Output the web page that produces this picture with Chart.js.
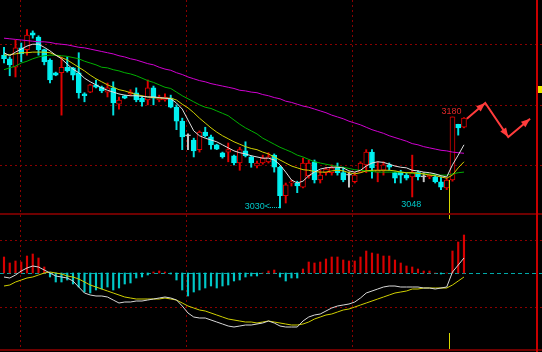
<!DOCTYPE html>
<html>
<head>
<meta charset="utf-8">
<script src="https://cdn.jsdelivr.net/npm/chart.js@4.4.0/dist/chart.umd.min.js"></script>
<style>
html, body { margin: 0; padding: 0; background: #000; }
body { width: 542px; height: 352px; position: relative; overflow: hidden; }
#kline { position: absolute; left: 0; top: 0; }
#macd { position: absolute; left: 0; top: 215px; }
.sep { position: absolute; left: 0; width: 542px; height: 2px; background: #6e0000; }
#edge { position: absolute; left: 536px; top: 0; width: 2px; height: 352px; background: #c80000; }
#tag { position: absolute; left: 538px; top: 86px; width: 4px; height: 7px; background: #e8e800; }
</style>
</head>
<body>
<canvas id="kline" width="542" height="213"></canvas>
<div class="sep" style="top:213px"></div>
<canvas id="macd" width="542" height="135"></canvas>
<div class="sep" style="top:349px"></div>
<div id="edge"></div>
<div id="tag"></div>
<script>
// daily candles, oldest first (index = trading day)
const opens = [3282,3276,3262,3294,3291,3319,3312,3291,3274,3253,
  3253,3262,3261,3253,3218,3221,3233,3229,3221,3228,
  3201,3215,3218,3220,3211,3208,3228,3208,3208,3211,
  3196,3173,3149,3142,3126,3155,3147,3134,3121,3122,
  3116,3104,3124,3114,3099,3104,3106,3117,3097,3050,
  3071,3071,3064,3083,3106,3076,3088,3088,3096,3088,
  3084,3073,3089,3101,3122,3089,3092,3101,3088,3089,
  3084,3081,3089,3081,3081,3081,3073,3063,3076,3168,
  3163];
const closes = [3276,3266,3294,3284,3315,3315,3291,3271,3241,3249,
  3262,3256,3249,3220,3215,3233,3229,3223,3228,3203,
  3208,3211,3221,3208,3205,3228,3211,3213,3213,3196,
  3173,3147,3149,3124,3155,3149,3134,3127,3114,3126,
  3104,3126,3116,3104,3104,3112,3114,3097,3050,3068,
  3073,3066,3104,3104,3076,3084,3094,3096,3088,3076,
  3084,3084,3104,3122,3096,3092,3101,3097,3079,3084,
  3079,3089,3081,3081,3084,3073,3064,3076,3180,3162,
  3178];
const highs = [3295,3279,3307,3302,3324,3322,3314,3292,3276,3254,
  3279,3279,3262,3286,3220,3234,3241,3231,3236,3238,
  3213,3216,3225,3228,3213,3241,3231,3216,3218,3216,
  3200,3178,3152,3145,3157,3163,3150,3135,3122,3137,
  3117,3130,3139,3116,3107,3117,3121,3119,3099,3071,
  3076,3074,3112,3109,3109,3092,3097,3101,3104,3097,
  3089,3089,3106,3126,3126,3106,3106,3104,3089,3092,
  3088,3117,3091,3088,3086,3084,3081,3079,3180,3168,
  3179];
const lows = [3269,3248,3246,3271,3282,3310,3282,3266,3236,3248,
  3183,3254,3241,3211,3205,3220,3228,3220,3213,3183,
  3193,3210,3215,3205,3198,3200,3200,3205,3206,3195,
  3159,3126,3126,3114,3122,3147,3127,3126,3112,3106,
  3101,3092,3114,3097,3096,3102,3104,3089,3030,3038,
  3066,3055,3063,3079,3071,3071,3084,3084,3084,3073,
  3064,3071,3088,3088,3079,3073,3084,3092,3071,3071,
  3076,3048,3076,3073,3078,3071,3060,3060,3074,3150,
  3162];

// moving averages
const ma5 = [3286,3281,3287,3292,3297,3300,3300,3295,3289,3282,
  3276,3267,3259,3253,3244,3238,3233,3228,3224,3221,
  3218,3216,3215,3215,3214,3213,3213,3212,3211,3210,
  3203,3193,3175,3157,3149,3145,3142,3139,3134,3129,
  3124,3121,3119,3116,3114,3112,3112,3109,3101,3089,
  3076,3071,3074,3083,3089,3094,3096,3097,3097,3096,
  3091,3089,3092,3099,3104,3106,3105,3102,3099,3097,
  3096,3092,3091,3089,3088,3086,3083,3081,3101,3117,
  3134];
const ma10 = [3282,3283,3284,3286,3286,3287,3287,3287,3286,3282,
  3278,3274,3268,3262,3256,3249,3243,3238,3233,3229,
  3225,3223,3220,3217,3215,3213,3212,3211,3211,3211,
  3208,3201,3195,3187,3178,3170,3162,3155,3149,3144,
  3139,3135,3131,3128,3126,3122,3119,3114,3109,3104,
  3099,3096,3093,3092,3090,3089,3089,3091,3092,3091,
  3088,3086,3088,3091,3092,3092,3092,3092,3091,3089,
  3088,3088,3087,3086,3084,3083,3081,3079,3084,3096,
  3106];
const ma20 = [3258,3261,3264,3269,3272,3276,3279,3281,3282,3282,
  3281,3280,3278,3276,3272,3269,3266,3262,3261,3258,
  3256,3253,3251,3248,3244,3240,3237,3233,3229,3227,
  3221,3215,3210,3205,3200,3196,3194,3190,3186,3182,
  3175,3168,3162,3157,3152,3145,3140,3135,3130,3126,
  3122,3117,3114,3110,3106,3104,3102,3100,3098,3097,
  3095,3093,3092,3091,3090,3089,3089,3089,3089,3089,
  3088,3087,3087,3086,3086,3085,3084,3084,3086,3088,
  3089];
const ma60 = [3310,3309,3308,3307,3306,3305,3304,3304,3303,3301,
  3300,3299,3297,3295,3294,3292,3290,3288,3286,3284,
  3281,3279,3276,3274,3271,3268,3266,3262,3259,3257,
  3253,3250,3246,3243,3240,3238,3235,3233,3231,3229,
  3227,3224,3223,3221,3220,3217,3215,3212,3210,3206,
  3204,3201,3198,3196,3193,3190,3187,3183,3180,3177,
  3173,3170,3167,3163,3159,3156,3153,3149,3146,3143,
  3140,3136,3134,3131,3129,3127,3125,3124,3122,3121,
  3120];

// MACD panel
const macdHist = [16,10,12,11,17,19,15,6,-4,-9,
  -9,-7,-11,-14,-19,-20,-17,-16,-14,-17,
  -15,-11,-10,-5,-4,-2,1,2,1,-1,
  -7,-17,-23,-19,-17,-15,-13,-15,-13,-12,
  -8,-7,-4,-3,-3,0,2,3,-4,-8,
  -5,-5,4,11,10,11,14,16,16,13,
  12,12,16,22,20,19,17,17,13,10,
  7,6,4,2,2,0,-1,0,22,31,
  38];
const dif = [-4,-5,-2,2,5,7,6,3,0,-3,
  -4,-5,-8,-14,-20,-22,-23,-23,-24,-27,
  -30,-29,-29,-28,-28,-27,-26,-25,-24,-25,
  -27,-33,-40,-44,-45,-45,-47,-49,-51,-53,
  -54,-53,-52,-52,-51,-50,-48,-50,-53,-54,
  -54,-54,-48,-44,-42,-41,-38,-35,-33,-32,
  -31,-29,-25,-20,-18,-16,-14,-13,-13,-14,
  -14,-14,-14,-15,-15,-16,-15,-14,1,8,
  15];
const dea = [-13,-12,-9,-7,-5,-4,-2,0,1,0,
  -1,-3,-4,-6,-9,-12,-14,-16,-18,-20,
  -22,-24,-25,-26,-26,-26,-26,-26,-25,-26,
  -27,-30,-33,-35,-37,-38,-40,-42,-44,-46,
  -47,-48,-49,-49,-50,-49,-48,-49,-50,-51,
  -52,-52,-51,-49,-46,-44,-42,-41,-39,-37,
  -36,-34,-32,-30,-28,-26,-24,-22,-20,-19,
  -18,-16,-16,-15,-15,-15,-15,-15,-12,-8,
  -4];

// forecast zigzag drawn after the last candle
const projX = [80.5, 83.7, 87.7, 91.5];
const projY = [3177, 3203, 3147, 3177];

const priceLevels = [3100, 3200, 3300];
const macdLevels = [33, -34];
const monthSplits = [2.7, 31.6, 60.5];
const marks = [
  { i: 48, at: 'low', pos: 'left', color: '#00c8c8' },
  { i: 71, at: 'low', pos: 'below', color: '#00c8c8' },
  { i: 78, at: 'high', pos: 'above', color: '#e02828' }
];
const cursorIndex = 78;

const X_MIN = -0.696, X_MAX = 93.57;
const UP = '#e00000', DOWN = '#00f0f0', FLAT = '#c8c8c8';

function kind(i) {
  if (closes[i] > opens[i]) return 'up';
  if (closes[i] < opens[i]) return 'down';
  return 'flat';
}
function pts(arr) { return arr.map((v, i) => ({ x: i, y: v })); }

function makeGrid(levels, zero) {
  return {
    id: 'panelGrid',
    beforeDatasetsDraw(chart) {
      const { ctx, chartArea: a, scales } = chart;
      ctx.save();
      ctx.lineWidth = 1;
      ctx.strokeStyle = '#8a0000';
      ctx.setLineDash([2, 3]);
      ctx.beginPath();
      monthSplits.forEach(v => {
        const px = Math.round(scales.x.getPixelForValue(v)) + 0.5;
        ctx.moveTo(px, a.top); ctx.lineTo(px, a.bottom);
      });
      levels.forEach(v => {
        const py = Math.round(scales.y.getPixelForValue(v)) + 0.5;
        ctx.moveTo(a.left, py); ctx.lineTo(a.right, py);
      });
      ctx.stroke();
      if (zero) {
        const py = Math.round(scales.y.getPixelForValue(0)) + 0.5;
        ctx.strokeStyle = '#00a8a8';
        ctx.setLineDash([4, 3]);
        ctx.beginPath(); ctx.moveTo(a.left, py); ctx.lineTo(a.right, py); ctx.stroke();
      }
      ctx.restore();
    }
  };
}

const markPlugin = {
  id: 'marks',
  afterDatasetsDraw(chart) {
    const { ctx, chartArea: a, scales: { x, y } } = chart;
    ctx.save();
    ctx.font = '9px "Liberation Sans", Arial, sans-serif';
    marks.forEach(m => {
      const v = m.at === 'low' ? lows[m.i] : highs[m.i];
      const px = x.getPixelForValue(m.i), py = y.getPixelForValue(v);
      ctx.fillStyle = m.color;
      ctx.strokeStyle = m.color;
      if (m.pos === 'left') {
        ctx.textAlign = 'right'; ctx.textBaseline = 'middle';
        ctx.fillText(v + '<', px - 10, py - 1);
        ctx.lineWidth = 1;
        ctx.setLineDash([1, 1]);
        const ly = Math.round(py - 1) + 0.5;
        ctx.beginPath(); ctx.moveTo(px - 10, ly); ctx.lineTo(px, ly); ctx.stroke();
        ctx.setLineDash([]);
      } else if (m.pos === 'below') {
        ctx.textAlign = 'center'; ctx.textBaseline = 'top';
        ctx.fillText(v, px - 1, py + 3);
      } else {
        ctx.textAlign = 'center'; ctx.textBaseline = 'bottom';
        ctx.fillText(v, px - 1, py - 1);
      }
    });
    // yellow marker below the breakout candle
    const cx = Math.round(x.getPixelForValue(cursorIndex) - 3) + 0.5;
    ctx.strokeStyle = '#d8d800';
    ctx.lineWidth = 1;
    ctx.beginPath();
    ctx.moveTo(cx, y.getPixelForValue(opens[cursorIndex]));
    ctx.lineTo(cx, a.bottom);
    ctx.stroke();
    ctx.restore();
  }
};

const arrowPlugin = {
  id: 'arrows',
  afterDatasetsDraw(chart) {
    const ctx = chart.ctx;
    const ds = chart.data.datasets.findIndex(d => d.label === 'forecast');
    const p = chart.getDatasetMeta(ds).data;
    ctx.save();
    ctx.fillStyle = '#ff3c3c';
    for (let k = 1; k < p.length; k++) {
      const ang = Math.atan2(p[k].y - p[k - 1].y, p[k].x - p[k - 1].x);
      const c = Math.cos(ang), s = Math.sin(ang);
      const len = 9, half = 3.5;
      ctx.beginPath();
      ctx.moveTo(p[k].x, p[k].y);
      ctx.lineTo(p[k].x - len * c + half * s, p[k].y - len * s - half * c);
      ctx.lineTo(p[k].x - len * c - half * s, p[k].y - len * s + half * c);
      ctx.closePath();
      ctx.fill();
    }
    ctx.restore();
  }
};

function line(label, arr, color, width) {
  return {
    type: 'line', label: label, data: arr, borderColor: color, borderWidth: width || 1,
    pointRadius: 0, tension: 0, fill: false, order: 0
  };
}

const bodyColors = opens.map((o, i) => kind(i) === 'up' ? '#000' : kind(i) === 'down' ? DOWN : FLAT);
const bodyBorders = opens.map((o, i) => kind(i) === 'up' ? UP : kind(i) === 'down' ? DOWN : FLAT);
const wickColors = opens.map((o, i) => kind(i) === 'up' ? '#e00000' : kind(i) === 'down' ? '#00e0e0' : FLAT);

new Chart(document.getElementById('kline'), {
  type: 'bar',
  data: {
    datasets: [
      line('MA5', pts(ma5), '#e0e0e0'),
      line('MA10', pts(ma10), '#d0d000'),
      line('MA20', pts(ma20), '#00b000'),
      line('MA60', pts(ma60), '#d000d0'),
      line('forecast', projX.map((v, i) => ({ x: v, y: projY[i] })), '#ff3c3c', 2),
      {
        label: 'body', data: opens.map((o, i) => ({ x: i, y: [o, closes[i]] })),
        backgroundColor: bodyColors, borderColor: bodyBorders, borderWidth: 1,
        borderSkipped: false, barThickness: 5, minBarLength: 1, grouped: false, order: 1
      },
      {
        label: 'wick', data: lows.map((l, i) => ({ x: i, y: [l, highs[i]] })),
        backgroundColor: wickColors, borderWidth: 0, barThickness: 1.3, grouped: false, order: 2
      }
    ]
  },
  options: {
    responsive: false, animation: false, devicePixelRatio: 1,
    layout: { padding: 0 },
    plugins: { legend: { display: false }, tooltip: { enabled: false } },
    scales: {
      x: { type: 'linear', min: X_MIN, max: X_MAX, offset: false, display: false },
      y: { type: 'linear', min: 3021.5, max: 3373, display: false }
    }
  },
  plugins: [makeGrid(priceLevels, false), markPlugin, arrowPlugin]
});

const macdCursor = {
  id: 'macdCursor',
  afterDatasetsDraw(chart) {
    const { ctx, chartArea: a, scales: { x, y } } = chart;
    const cx = Math.round(x.getPixelForValue(cursorIndex) - 3) + 0.5;
    ctx.save();
    ctx.strokeStyle = '#d8d800';
    ctx.beginPath();
    ctx.moveTo(cx, a.top); ctx.lineTo(cx, y.getPixelForValue(54));
    ctx.moveTo(cx, y.getPixelForValue(-60)); ctx.lineTo(cx, a.bottom);
    ctx.stroke();
    ctx.restore();
  }
};

new Chart(document.getElementById('macd'), {
  type: 'bar',
  data: {
    datasets: [
      line('DIF', pts(dif), '#d8d8d8'),
      line('DEA', pts(dea), '#d0d000'),
      {
        label: 'MACD', data: pts(macdHist),
        backgroundColor: macdHist.map(v => v >= 0 ? '#d80000' : '#00c8c8'),
        borderWidth: 0, barThickness: 1.5, grouped: false, order: 1
      }
    ]
  },
  options: {
    responsive: false, animation: false, devicePixelRatio: 1,
    layout: { padding: 0 },
    plugins: { legend: { display: false }, tooltip: { enabled: false } },
    scales: {
      x: { type: 'linear', min: X_MIN, max: X_MAX, offset: false, display: false },
      y: { type: 'linear', min: -77, max: 58, display: false }
    }
  },
  plugins: [makeGrid(macdLevels, true), macdCursor]
});
</script>
</body>
</html>
